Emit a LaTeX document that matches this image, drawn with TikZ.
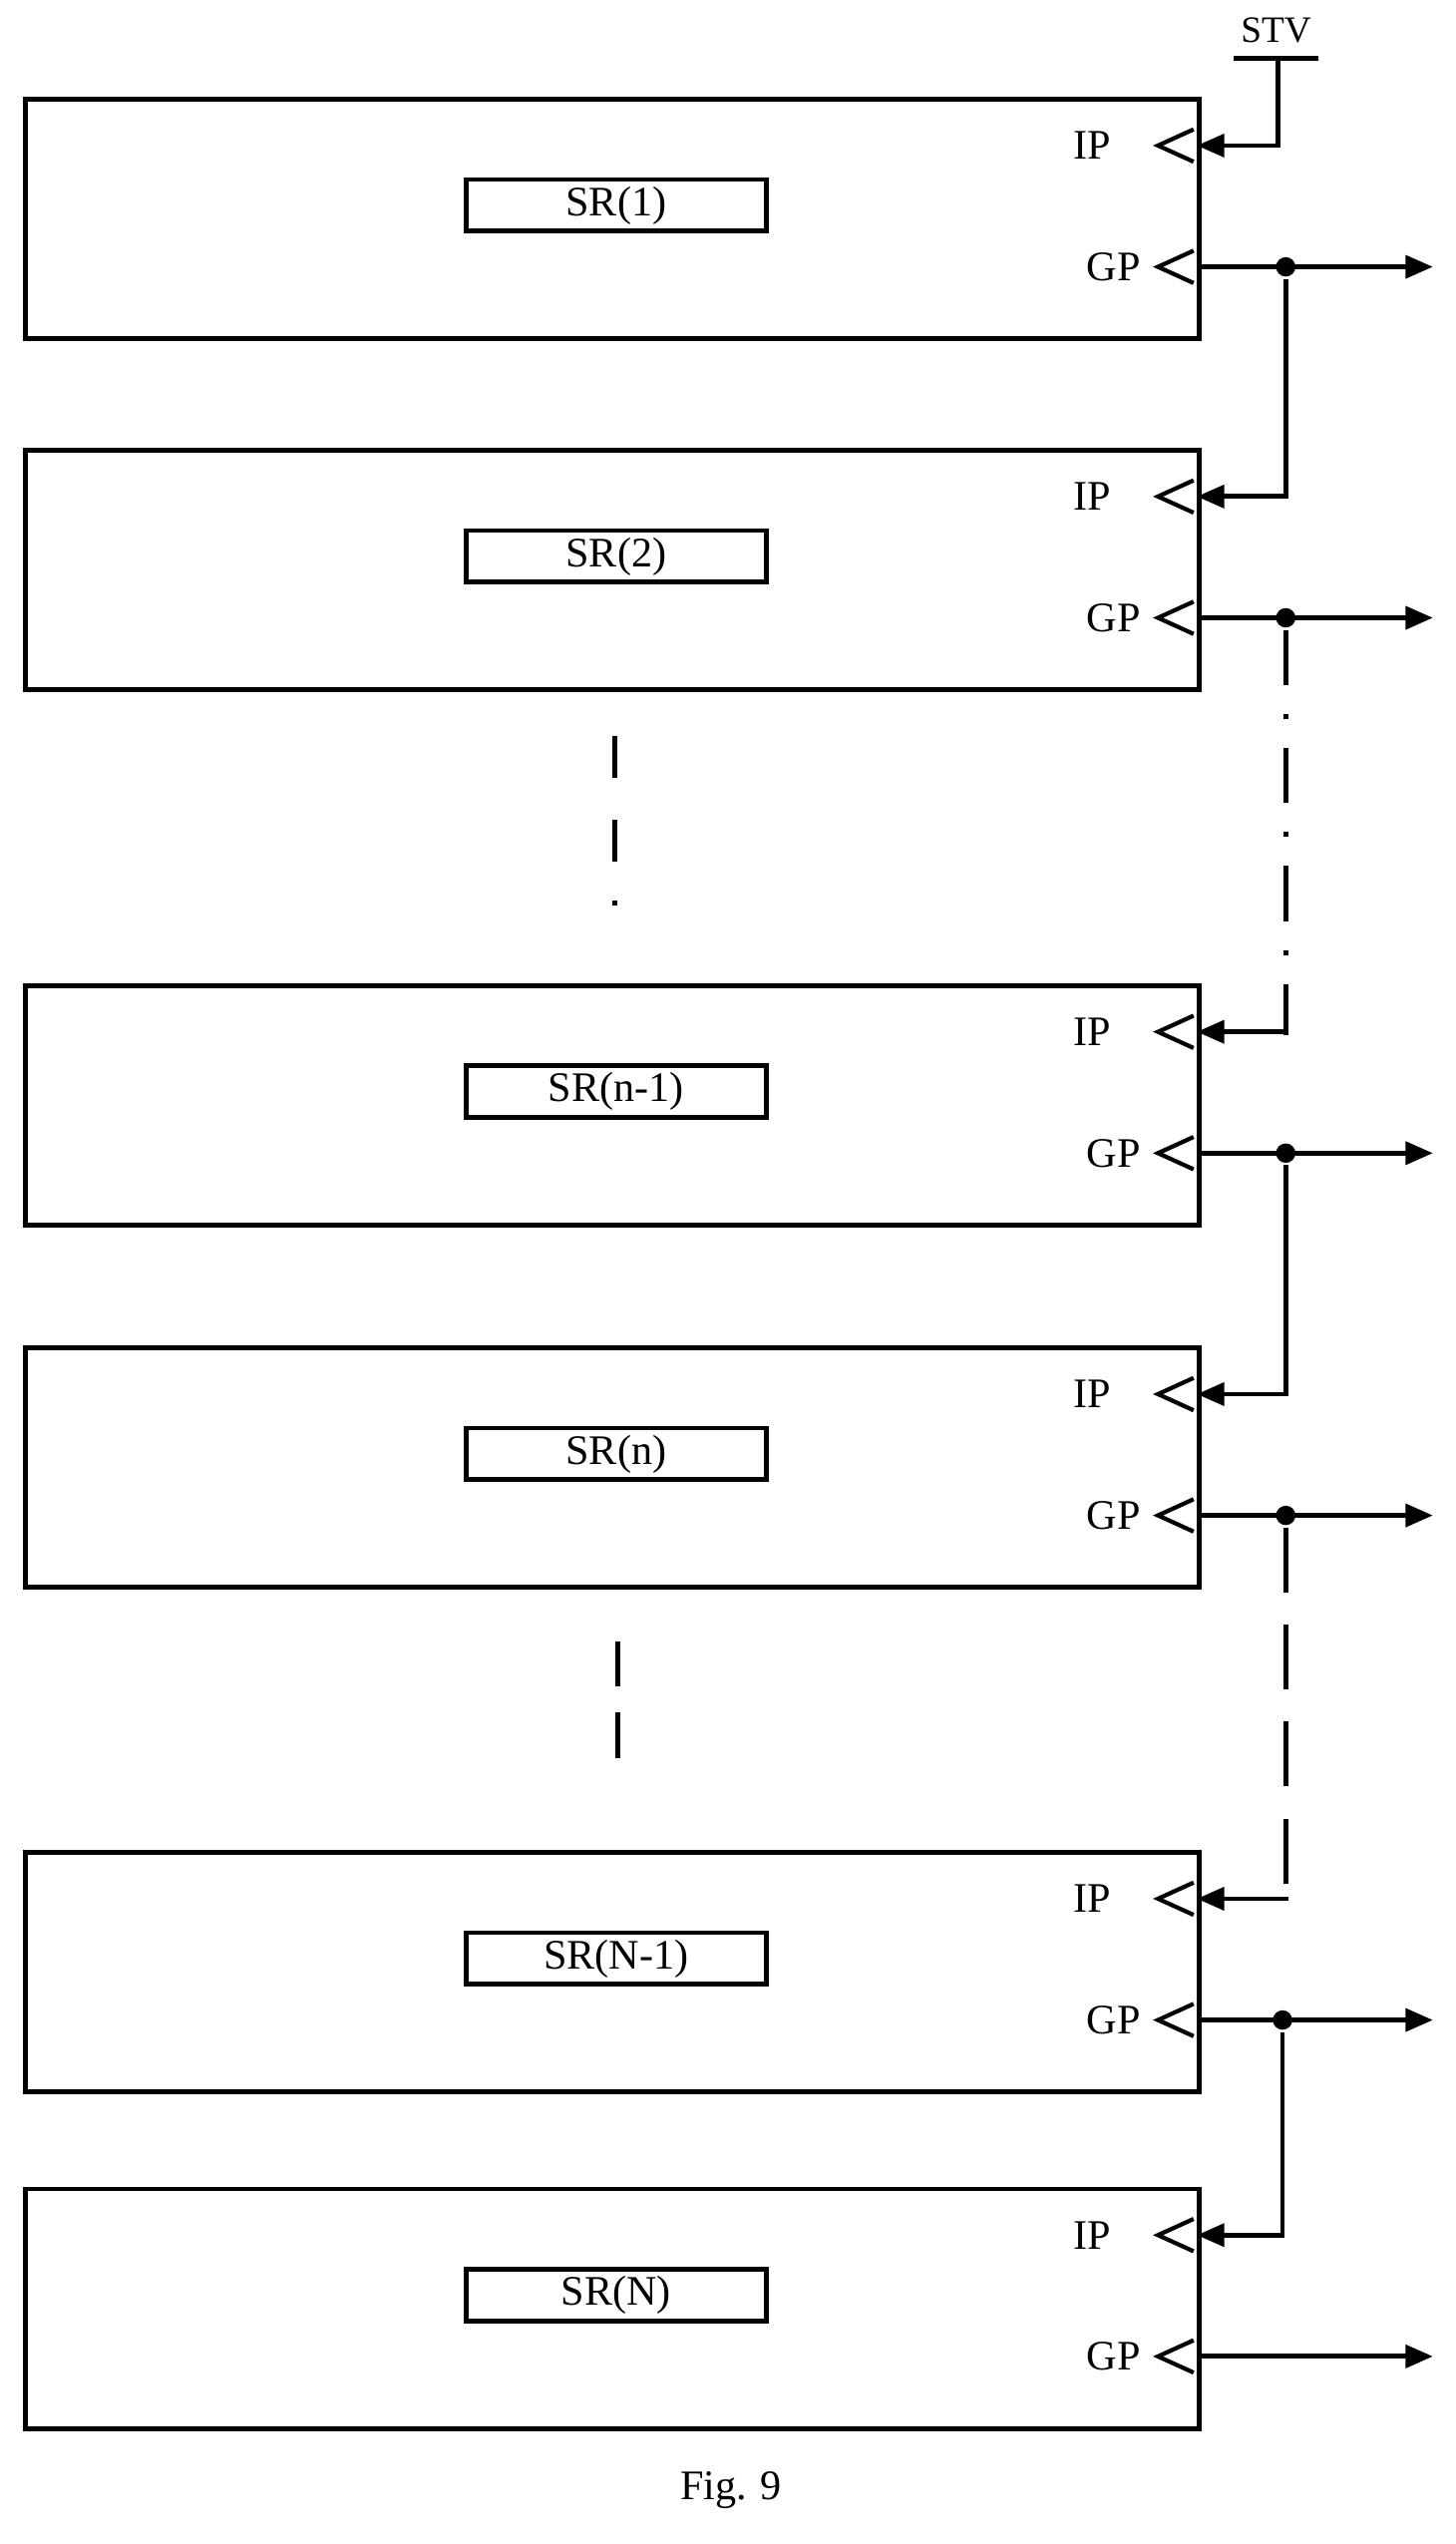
\documentclass[tikz,border=0pt]{standalone}
\usepackage{fontspec}
\setmainfont{Liberation Serif}
\usetikzlibrary{arrows.meta}
\begin{document}
\begin{tikzpicture}[x=1pt,y=-1pt,line width=3pt,
  box/.style={draw,minimum width=726pt,minimum height=148pt,anchor=north west,inner sep=0},
  lab/.style={draw,minimum width=186pt,minimum height=32pt,inner sep=0,font=\fontsize{26}{30}\selectfont},
  pin/.style={font=\fontsize{26}{30}\selectfont,anchor=east},
  arr/.style={-{Triangle[length=17pt,width=14pt]}},
  dot/.style={circle,fill,inner sep=0,minimum size=12pt},
  dd/.style={dash pattern=on 34pt off 18pt on 3pt off 18pt}]
\useasboundingbox (0,0) rectangle (900,1573);
\foreach \n/\y/\t in {a/60/SR(1),b/277/SR(2),c/608/SR(n-1),d/832/SR(n),e/1144/SR(N-1),f/1352/SR(N)}{
  \node[box] (\n) at (14,\y) {};
  \node[lab] (\n l) at (381,\y+67) {\t};
  \node[pin] (\n ip) at (692,\y+30) {IP};
  \node[pin] (\n gp) at (710,\y+105) {GP};
  \draw[line width=2.6pt] (738,\y+20) -- (716,\y+30) -- (738,\y+40);
  \draw[line width=2.6pt] (738,\y+95) -- (716,\y+105) -- (738,\y+115);
  \coordinate (\n I) at (740,\y+30);
  \coordinate (\n G) at (740,\y+105);
  \coordinate (\n O) at (886,\y+105);
  \draw[arr] (\n G) -- (\n O);
}
\node[font=\fontsize{23}{26}\selectfont] (stv) at (789,19) {STV};
\draw (763,36) -- (815,36);
\coordinate (s) at (790,36);
\draw[arr] (s) |- (aI);
\foreach \p/\q/\x in {a/b/795,b/c/795,c/d/795,d/e/795,e/f/793}{
  \node[dot] (\p D) at ({\x,0} |- \p G) {};
}
\draw[arr] (aD) |- (bI);
\draw[arr] (cD) |- (dI);
\draw[arr] (eD) |- (fI);
\coordinate (b1) at (795,640);
\coordinate (d1) at (795,1175);
\draw[dd] (bD) -- (b1);
\draw[arr] (b1) |- (cI);
\draw[dash pattern=on 40pt off 20pt] (dD) -- (d1);
\draw[arr] (d1) |- (eI);
\coordinate (l1) at (380,455); \coordinate (l2) at (380,562);
\coordinate (l3) at (382,1015); \coordinate (l4) at (382,1100);
\draw[dash pattern=on 26pt off 26pt on 26pt off 24pt on 3pt off 20pt] (l1) -- (l2);
\draw[dash pattern=on 28pt off 16pt] (l3) -- (l4);
\node[font=\fontsize{26}{30}\selectfont] (fig) at (452,1540) {Fig. 9};
\end{tikzpicture}
\end{document}
